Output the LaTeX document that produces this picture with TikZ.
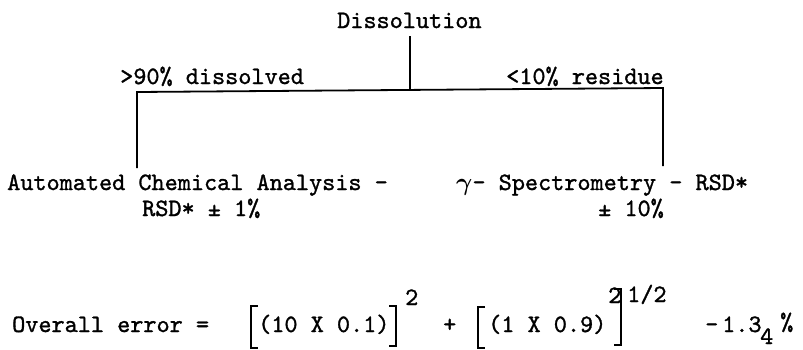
\documentclass[tikz,border=0pt]{standalone}
\usepackage{fontspec}
\setmonofont{lmmono10-regular.otf}[FakeBold=1.2]
\begin{document}
\begin{tikzpicture}[x=1pt,y=-1pt,
  txt/.style={inner sep=0pt, anchor=base west, font=\ttfamily\fontsize{25}{30}\selectfont},
  ln/.style={line width=1.8pt},
  brk/.style={line width=2.4pt}]
\useasboundingbox (0,0) rectangle (803,349);
% top
\node[txt] (dis) at (337,28) {Dissolution};
\coordinate (dtop) at (410,36);
\coordinate (j) at (410,90);
\coordinate (jl) at (137,92);
\coordinate (jr) at (663,88);
\coordinate (bl) at (137,168);
\coordinate (br) at (663,166);
\draw[ln] (dtop) -- (j);
\draw[ln] (bl) -- (jl) -- (jr) -- (br);
\node[txt] (lab1) at (120,84) {>90\% dissolved};
\node[txt] (lab2) at (506,84) {<10\% residue};
% branches
\node[txt] (aca1) at (7,190) {Automated Chemical Analysis -};
\node[txt] (aca2) at (142,216) {RSD* ± 1\%};
\node[txt] (gs1) at (456,190) {{\boldmath$\gamma$}- Spectrometry - RSD*};
\node[txt] (gs2) at (598,216) {± 10\%};
% equation
\node[txt] (ov) at (12,332) {Overall error =};
\draw[brk] (258,306) -- (251,306) -- (251,348) -- (258,348);
\node[txt] (t1) at (258,332) {(10 X 0.1)};
\draw[brk] (389,306) -- (396,306) -- (396,346) -- (389,346);
\node[txt] (s1) at (405,305) {2};
\node[txt] (pl) at (443,332) {+};
\draw[brk] (485,307) -- (478,307) -- (478,348) -- (485,348);
\node[txt] (t2) at (488,332) {(1 X 0.9)};
\node[txt] (s2) at (608,303) {2};
\draw[brk] (614,289) -- (621,289) -- (621,345) -- (614,345);
\node[txt] (ex) at (627,302) {1/2};
\node[txt] (mn) at (705,332) {-};
\node[txt] (res) at (722,332) {1.3};
\node[txt] (sub) at (760,344) {4};
\node[txt] (pc) at (780,330) {\%};
\end{tikzpicture}
\end{document}
